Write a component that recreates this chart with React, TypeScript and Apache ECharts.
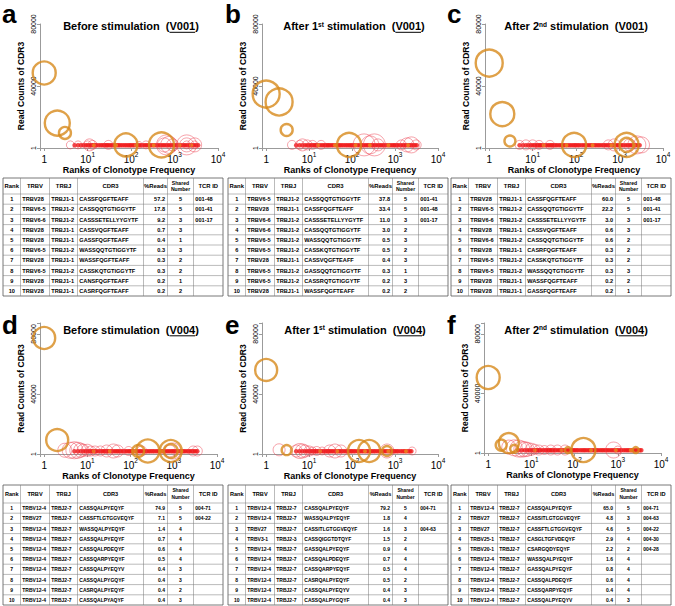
import React, { useEffect, useRef } from "react";
import * as echarts from "echarts";

const FONT = 'Arial, "Liberation Sans", Helvetica, sans-serif';

// ---------- data ----------
const panelLetters = ["a", "b", "c", "d", "e", "f"];
const titleParts = [
  { pre: "Before stimulation", sup: "", post: "", donor: "V001" },
  { pre: "After 1", sup: "st", post: " stimulation", donor: "V001" },
  { pre: "After 2", sup: "nd", post: " stimulation", donor: "V001" },
  { pre: "Before stimulation", sup: "", post: "", donor: "V004" },
  { pre: "After 1", sup: "st", post: " stimulation", donor: "V004" },
  { pre: "After 2", sup: "nd", post: " stimulation", donor: "V004" },
];

// [rank, read count, bubble size]
const orangeA = [[1, 48400, 23], [2, 16100, 25], [3, 9700, 12], [76, 2000, 23], [500, 2000, 25]];
const redA = [[4, 2000, 8], [6, 2000, 8], [10, 2000, 8], [11, 2000, 12], [13, 2000, 9], [30, 2000, 9], [150, 2000, 7], [220, 2000, 8], [580, 2000, 14], [650, 2000, 20], [750, 2000, 17], [900, 2000, 12], [1900, 2000, 8], [1900, 2000, 14], [1900, 2000, 20], [2900, 2000, 8], [2900, 2000, 14]];
const orangeB = [[1, 34800, 27], [2, 29700, 27], [3, 11600, 12], [85, 2000, 24]];
const redB = [[4, 2000, 9], [6, 2000, 9], [7, 2000, 12], [9, 2000, 10], [12, 2000, 9], [19, 2000, 9], [190, 2000, 22], [260, 2000, 18], [330, 2000, 22], [400, 2000, 12], [1400, 2000, 10], [1900, 2000, 14], [2400, 2000, 16], [3100, 2000, 10]];
const orangeC = [[1, 54800, 27], [2, 21900, 24], [3, 4500, 11], [90, 2000, 24], [1450, 2000, 24], [1450, 2000, 14]];
const redC = [[5, 2000, 9], [7, 2000, 10], [10, 2000, 10], [14, 2000, 9], [25, 2000, 9], [550, 2000, 10], [750, 2000, 12], [1700, 2000, 12], [2500, 2000, 18], [3200, 2000, 16]];
const orangeD = [[1, 77300, 22], [2, 9300, 22], [150, 2000, 12], [250, 2000, 23], [850, 2000, 14], [850, 2000, 22]];
const redD = [[3, 2500, 14], [4, 2500, 16], [5, 2500, 17], [6, 2500, 16], [7, 2500, 14], [8, 2500, 12], [10, 2500, 12], [12, 2000, 10], [15, 2000, 10], [20, 2000, 10], [28, 2000, 12], [40, 2000, 14], [50, 2000, 12], [90, 2000, 9], [180, 2000, 10], [800, 2000, 12], [950, 2000, 16], [2800, 2000, 10], [3500, 2000, 10]];
const orangeE = [[1, 56000, 22], [3, 2600, 10], [145, 2000, 22], [250, 2000, 22], [650, 2000, 10]];
const redE = [[2, 2800, 12], [5, 2000, 12], [6, 2000, 15], [7, 2000, 14], [8, 2000, 12], [10, 2000, 10], [12, 2000, 8], [15, 2000, 9], [20, 2000, 8], [30, 2000, 12], [40, 2000, 14], [55, 2000, 12], [650, 2000, 14], [2500, 2000, 8]];
const orangeF = [[1, 50700, 23], [2, 5300, 11], [3, 6700, 20], [4, 2800, 8], [70, 2000, 6], [160, 2000, 24], [2600, 2000, 6]];
const redF = [[3, 4000, 14], [4, 3500, 16], [5, 3000, 17], [6, 2600, 16], [7, 2500, 15], [8, 2500, 14], [10, 2500, 12], [12, 2500, 10], [15, 2000, 10], [20, 2000, 9], [28, 2000, 10], [40, 2000, 10], [60, 2000, 10], [800, 2000, 16], [1000, 2000, 8]];

const orangeSets = [orangeA, orangeB, orangeC, orangeD, orangeE, orangeF];
const redSets = [redA, redB, redC, redD, redE, redF];

// low-frequency tail of clonotypes (ranks), read counts near the baseline
const tailRanks = [5, 6, 7, 8, 9, 10, 11, 12, 13, 14, 15, 16, 18, 20, 22, 24, 26, 28, 30, 33, 36, 40, 44, 48, 52, 57, 63, 70, 77, 85, 93, 100, 110, 120, 135, 150, 165, 180, 200, 220, 240, 265, 290, 320, 350, 390, 430, 470, 520, 570, 630, 700, 770, 850, 930, 1000, 1100, 1200, 1350, 1500, 1650, 1800, 2000, 2200, 2400, 2650, 2900, 3200, 3500];
const tailMaxRank = [3500, 3300, 3000, 3600, 2500, 3600];
const tailReads = [1800, 1800, 1800, 1800, 1800, 1800];
const tailOrangeRanks = [
  [14, 45, 130, 330, 1300, 2400],
  [16, 40, 120, 260, 700, 2000],
  [18, 60, 240, 650, 2200],
  [14, 33, 120, 520, 1500],
  [18, 45, 200, 700, 1800],
  [12, 50, 240, 900, 2000],
];

const yTickLabels = ["1", "40000", "80000"];
const xTickExponents = [0, 1, 2, 3, 4];

const tableHeaders = ["Rank", "TRBV", "TRBJ", "CDR3", "%Reads", "Shared\nNumber", "TCR ID"];
const tableA = [
  [1, "TRBV28", "TRBJ1-1", "CASSFQGFTEAFF", 57.2, 5, "001-48"],
  [2, "TRBV6-5", "TRBJ1-2", "CASSQQTGTIGGYTF", 17.8, 5, "001-41"],
  [3, "TRBV6-6", "TRBJ1-2", "CASSSETELLYYGYTF", 9.2, 3, "001-17"],
  [4, "TRBV28", "TRBJ1-1", "CASSVQGFTEAFF", 0.7, 3, ""],
  [5, "TRBV28", "TRBJ1-1", "GASSFQGFTEAFF", 0.4, 1, ""],
  [6, "TRBV6-5", "TRBJ1-2", "WASSQQTGTIGGYTF", 0.3, 3, ""],
  [7, "TRBV28", "TRBJ1-1", "WASSFQGFTEAFF", 0.3, 2, ""],
  [8, "TRBV6-5", "TRBJ1-2", "CASSKQTGTIGGYTF", 0.3, 2, ""],
  [9, "TRBV28", "TRBJ1-1", "CANSFQGFTEAFF", 0.2, 1, ""],
  [10, "TRBV28", "TRBJ1-1", "CASRFQGFTEAFF", 0.2, 2, ""],
];
const tableB = [
  [1, "TRBV6-5", "TRBJ1-2", "CASSQQTGTIGGYTF", 37.8, 5, "001-41"],
  [2, "TRBV28", "TRBJ1-1", "CASSFQGFTEAFF", 33.4, 5, "001-48"],
  [3, "TRBV6-6", "TRBJ1-2", "CASSSETELLYYGYTF", 11.0, 3, "001-17"],
  [4, "TRBV6-6", "TRBJ1-2", "CASSQQTGTIGGYTF", 3.0, 2, ""],
  [5, "TRBV6-5", "TRBJ1-2", "WASSQQTGTIGGYTF", 0.5, 3, ""],
  [6, "TRBV6-5", "TRBJ1-2", "CASSKQTGTIGGYTF", 0.5, 2, ""],
  [7, "TRBV28", "TRBJ1-1", "CASSVQGFTEAFF", 0.4, 3, ""],
  [8, "TRBV6-5", "TRBJ1-2", "GASSQQTGTIGGYTF", 0.3, 1, ""],
  [9, "TRBV6-5", "TRBJ1-2", "CASSRQTGTIGGYTF", 0.2, 3, ""],
  [10, "TRBV28", "TRBJ1-1", "WASSFQGFTEAFF", 0.2, 2, ""],
];
const tableC = [
  [1, "TRBV28", "TRBJ1-1", "CASSFQGFTEAFF", 60.0, 5, "001-48"],
  [2, "TRBV6-5", "TRBJ1-2", "CASSQQTGTIGGYTF", 22.2, 5, "001-41"],
  [3, "TRBV6-6", "TRBJ1-2", "CASSSETELLYYGYTF", 3.0, 3, "001-17"],
  [4, "TRBV28", "TRBJ1-1", "CASSVQGFTEAFF", 0.6, 3, ""],
  [5, "TRBV6-6", "TRBJ1-2", "CASSQQTGTIGGYTF", 0.6, 2, ""],
  [6, "TRBV28", "TRBJ1-1", "CASRFQGFTEAFF", 0.3, 2, ""],
  [7, "TRBV6-5", "TRBJ1-2", "CASSKQTGTIGGYTF", 0.3, 2, ""],
  [8, "TRBV6-5", "TRBJ1-2", "WASSQQTGTIGGYTF", 0.3, 3, ""],
  [9, "TRBV28", "TRBJ1-1", "WASSFQGFTEAFF", 0.2, 2, ""],
  [10, "TRBV28", "TRBJ1-1", "GASSFQGFTEAFF", 0.2, 1, ""],
];
const tableD = [
  [1, "TRBV12-4", "TRBJ2-7", "CASSQALPYEQYF", 74.9, 5, "004-71"],
  [2, "TRBV27", "TRBJ2-7", "CASSFTLGTGGVEQYF", 7.1, 5, "004-22"],
  [3, "TRBV12-4", "TRBJ2-7", "WASSQALPYEQYF", 1.4, 4, ""],
  [4, "TRBV12-4", "TRBJ2-7", "GASSQALPYEQYF", 0.7, 4, ""],
  [5, "TRBV12-4", "TRBJ2-7", "CASSQALPDEQYF", 0.6, 4, ""],
  [6, "TRBV12-4", "TRBJ2-7", "CASSQARPYEQYF", 0.5, 4, ""],
  [7, "TRBV12-4", "TRBJ2-7", "CASSQALPYEQYV", 0.4, 3, ""],
  [8, "TRBV12-4", "TRBJ2-7", "CASSQALPYGQYF", 0.4, 3, ""],
  [9, "TRBV12-4", "TRBJ2-7", "CASRQALPYEQYF", 0.4, 2, ""],
  [10, "TRBV12-4", "TRBJ2-7", "CASSQALPYAQYF", 0.4, 3, ""],
];
const tableE = [
  [1, "TRBV12-4", "TRBJ2-7", "CASSQALPYEQYF", 79.2, 5, "004-71"],
  [2, "TRBV12-4", "TRBJ2-7", "WASSQALPYEQYF", 1.8, 4, ""],
  [3, "TRBV27", "TRBJ2-7", "CASSITLGTGGVEQYF", 1.6, 3, "004-63"],
  [4, "TRBV3-1", "TRBJ2-3", "CASSQIGGTDTQYF", 1.5, 2, ""],
  [5, "TRBV12-4", "TRBJ2-7", "GASSQALPYEQYF", 0.9, 4, ""],
  [6, "TRBV12-4", "TRBJ2-7", "CASSQALPDEQYF", 0.7, 4, ""],
  [7, "TRBV12-4", "TRBJ2-7", "CASSQARPYEQYF", 0.5, 4, ""],
  [8, "TRBV12-4", "TRBJ2-7", "CASRQALPYEQYF", 0.5, 2, ""],
  [9, "TRBV12-4", "TRBJ2-7", "CASSQALPYEQYV", 0.4, 3, ""],
  [10, "TRBV12-4", "TRBJ2-7", "CASSQALPYGQYF", 0.4, 3, ""],
];
const tableF = [
  [1, "TRBV12-4", "TRBJ2-7", "CASSQALPYEQYF", 65.0, 5, "004-71"],
  [2, "TRBV27", "TRBJ2-7", "CASSITLGTGGVEQYF", 4.8, 3, "004-63"],
  [3, "TRBV27", "TRBJ2-7", "CASSFTLGTGGVEQYF", 4.6, 5, "004-22"],
  [4, "TRBV25-1", "TRBJ2-7", "CASGLTGFVDEQYF", 2.9, 4, "004-30"],
  [5, "TRBV20-1", "TRBJ2-7", "CSARGQDYEQYF", 2.2, 2, "004-28"],
  [6, "TRBV12-4", "TRBJ2-7", "WASSQALPYEQYF", 1.6, 4, ""],
  [7, "TRBV12-4", "TRBJ2-7", "GASSQALPYEQYF", 0.8, 4, ""],
  [8, "TRBV12-4", "TRBJ2-7", "CASSQALPDEQYF", 0.6, 4, ""],
  [9, "TRBV12-4", "TRBJ2-7", "CASSQARPYEQYF", 0.4, 4, ""],
  [10, "TRBV12-4", "TRBJ2-7", "CASSQALPYEQYV", 0.4, 3, ""],
];
const tables = [tableA, tableB, tableC, tableD, tableE, tableF];

// ---------- layout ----------
const grids = [
  { left: 40, top: 24, right: 218, bottom: 148, ymax: 80000 },
  { left: 262, top: 24, right: 438, bottom: 148, ymax: 80000 },
  { left: 485, top: 24, right: 663, bottom: 148, ymax: 80000 },
  { left: 40, top: 323, right: 217, bottom: 454, ymax: 87300 },
  { left: 262, top: 323, right: 438, bottom: 454, ymax: 87300 },
  { left: 484, top: 323, right: 661, bottom: 453, ymax: 87300 },
];
const letterPos = [[2, 14], [225, 14], [447, 14], [2, 325], [225, 325], [447, 325]];
const titleCenter = [[131, 26], [354, 26], [576, 26], [131, 329.5], [355, 329.5], [576, 329.5]];
const tableLeft = [3, 228, 451];
const tableTop = [178, 485];
const tableHeaderH = [16, 18];
const tableRowH = [10.2, 10.2];
const tableBodyFont = [5.6, 5.0];
const tableHeadFont = [5.9, 5.6];
const colEdges = [0, 17.5, 46.5, 74.5, 140.5, 164.5, 190.5, 220];
const colAlign = ["center", "left", "left", "left", "right", "center", "left"];

const ORANGE = "#d7891b";
const RED_RING = "rgba(236,58,76,0.75)";
const RED_DOT = "#f01c1c";
const ORANGE_DOT = "#ec8c1e";
const AXIS = "#9b9b9b";

let measureCtx: CanvasRenderingContext2D | null = null;
function measure(text: string, size: number, weight = "bold") {
  if (!measureCtx) measureCtx = document.createElement("canvas").getContext("2d");
  measureCtx!.font = `${weight} ${size}px ${FONT}`;
  return measureCtx!.measureText(text).width;
}

function textEl(x: number, y: number, text: string, size: number, weight: string, align = "left", vAlign = "middle", extra: any = {}) {
  return {
    type: "text",
    x,
    y,
    silent: true,
    z: 100,
    style: {
      text,
      fontSize: size,
      fontWeight: weight,
      fontFamily: FONT,
      fill: "#000",
      textAlign: align,
      textVerticalAlign: vAlign,
      verticalAlign: vAlign,
      ...extra,
    },
  };
}

function titleEls(i: number) {
  const t = titleParts[i];
  const [cx, cy] = titleCenter[i];
  const fs = 11;
  const sfs = 6.5;
  const parts: any[] = [{ text: t.pre, size: fs, dy: 0 }];
  if (t.sup) parts.push({ text: t.sup, size: sfs, dy: -1.8 });
  parts.push({ text: t.post + "  (", size: fs, dy: 0 });
  parts.push({ text: t.donor, size: fs, dy: 0, underline: true });
  parts.push({ text: ")", size: fs, dy: 0 });
  const widths = parts.map((p) => measure(p.text, p.size));
  const total = widths.reduce((a, b) => a + b, 0);
  let x = cx - total / 2;
  const els: any[] = [];
  parts.forEach((p, k) => {
    els.push(textEl(x, cy + p.dy, p.text, p.size, "bold"));
    if (p.underline) {
      els.push({
        type: "line",
        silent: true,
        z: 100,
        shape: { x1: x, y1: cy + 6.3, x2: x + widths[k], y2: cy + 6.3 },
        style: { stroke: "#000", lineWidth: 1 },
      });
    }
    x += widths[k];
  });
  return els;
}

function tableEls(i: number) {
  const rows = tables[i];
  const row = i < 3 ? 0 : 1;
  const L = tableLeft[i % 3];
  const T = tableTop[row];
  const hH = tableHeaderH[row];
  const rH = tableRowH[row];
  const W = colEdges[colEdges.length - 1];
  const H = hH + rH * rows.length;
  const els: any[] = [];
  els.push({
    type: "rect",
    silent: true,
    z: 90,
    shape: { x: L, y: T, width: W, height: H },
    style: { fill: "#fff", stroke: "#555", lineWidth: 0.8 },
  });
  for (let r = 0; r < rows.length; r++) {
    const y = T + hH + r * rH;
    els.push({
      type: "line",
      silent: true,
      z: 91,
      shape: { x1: L, y1: y, x2: L + W, y2: y },
      style: { stroke: "#777", lineWidth: 0.5 },
    });
  }
  for (let c = 1; c < colEdges.length - 1; c++) {
    const x = L + colEdges[c];
    els.push({
      type: "line",
      silent: true,
      z: 91,
      shape: { x1: x, y1: T, x2: x, y2: T + H },
      style: { stroke: "#777", lineWidth: 0.5 },
    });
  }
  tableHeaders.forEach((h, c) => {
    const cxm = L + (colEdges[c] + colEdges[c + 1]) / 2;
    const isTwo = h.indexOf("\n") >= 0;
    els.push(
      textEl(cxm, T + hH / 2, h, isTwo ? tableHeadFont[row] - 0.8 : tableHeadFont[row], "bold", "center", "middle", isTwo ? { lineHeight: 6.2 } : {})
    );
  });
  const fs = tableBodyFont[row];
  rows.forEach((rw, r) => {
    const y = T + hH + r * rH + rH / 2;
    rw.forEach((v: any, c: number) => {
      const s = c === 4 ? Number(v).toFixed(1) : String(v);
      if (!s) return;
      const a = colAlign[c];
      const x =
        a === "center"
          ? L + (colEdges[c] + colEdges[c + 1]) / 2
          : a === "left"
          ? L + colEdges[c] + 1.8
          : L + colEdges[c + 1] - 2.5;
      els.push(textEl(x, y, s, fs, "bold", a, "middle"));
    });
  });
  return els;
}

function buildOption() {
  const gridOpt: any[] = [];
  const xAxes: any[] = [];
  const yAxes: any[] = [];
  const series: any[] = [];
  const graphics: any[] = [];

  grids.forEach((g, i) => {
    gridOpt.push({
      left: g.left,
      top: g.top,
      width: g.right - g.left,
      height: g.bottom - g.top,
      containLabel: false,
    });
    xAxes.push({
      type: "log",
      logBase: 10,
      gridIndex: i,
      min: 0.8,
      max: 10000,
      name: "Ranks of Clonotype Frequency",
      nameLocation: "middle",
      nameGap: 17,
      nameTextStyle: { fontSize: 9, fontWeight: "bold", color: "#000", fontFamily: FONT },
      axisLine: { show: true, lineStyle: { color: AXIS, width: 1 } },
      axisTick: { show: true, length: 3, lineStyle: { color: AXIS } },
      minorTick: { show: false },
      splitLine: { show: false },
      axisLabel: {
        show: true,
        margin: 3,
        fontSize: 10,
        lineHeight: 13,
        color: "#000",
        fontFamily: FONT,
        formatter: (v: number) => {
          const lg = Math.log10(v);
          const e = Math.round(lg);
          if (Math.abs(lg - e) > 1e-6 || xTickExponents.indexOf(e) < 0) return "";
          return e === 0 ? "{b|1}" : `{b|10}{s|${e}}`;
        },
        rich: {
          b: { fontSize: 10, lineHeight: 13, verticalAlign: "bottom", color: "#000", fontFamily: FONT },
          s: { fontSize: 6.5, lineHeight: 6, verticalAlign: "top", color: "#000", fontFamily: FONT },
        },
      },
    });
    yAxes.push({
      type: "value",
      gridIndex: i,
      min: 0,
      max: g.ymax,
      interval: 40000,
      name: "Read Counts of CDR3",
      nameLocation: "middle",
      nameRotate: 90,
      nameGap: 15,
      nameTextStyle: { fontSize: 8.5, fontWeight: "bold", color: "#000", fontFamily: FONT },
      axisLine: { show: true, lineStyle: { color: AXIS, width: 1 } },
      axisTick: { show: true, length: 3, lineStyle: { color: AXIS } },
      splitLine: { show: false },
      axisLabel: {
        rotate: 90,
        margin: 3,
        fontSize: 7,
        color: "#000",
        fontFamily: FONT,
        formatter: (v: number) => {
          if (v % 40000 !== 0) return "";
          return yTickLabels[v / 40000] ?? "";
        },
      },
    });

    const tail = tailRanks.filter((r) => r <= tailMaxRank[i]).map((r) => [r, tailReads[i]]);
    series.push({
      type: "scatter",
      xAxisIndex: i,
      yAxisIndex: i,
      data: tail,
      symbol: "circle",
      symbolSize: 4.5,
      itemStyle: { color: RED_DOT },
      emphasis: { disabled: true },
      silent: true,
      z: 2,
    });
    series.push({
      type: "scatter",
      xAxisIndex: i,
      yAxisIndex: i,
      data: tailOrangeRanks[i].map((r) => [r, tailReads[i]]),
      symbol: "circle",
      symbolSize: 4,
      itemStyle: { color: ORANGE_DOT },
      emphasis: { disabled: true },
      silent: true,
      z: 3,
    });
    series.push({
      type: "scatter",
      xAxisIndex: i,
      yAxisIndex: i,
      data: redSets[i],
      symbol: "circle",
      symbolSize: (v: number[]) => v[2],
      itemStyle: { color: "rgba(0,0,0,0)", borderColor: RED_RING, borderWidth: 0.8 },
      emphasis: { disabled: true },
      silent: true,
      z: 4,
    });
    series.push({
      type: "scatter",
      xAxisIndex: i,
      yAxisIndex: i,
      data: orangeSets[i],
      symbol: "circle",
      symbolSize: (v: number[]) => v[2],
      itemStyle: { color: "rgba(0,0,0,0)", borderColor: ORANGE, borderWidth: 2.4 },
      emphasis: { disabled: true },
      silent: true,
      z: 5,
    });

    const [lx, ly] = letterPos[i];
    graphics.push(textEl(lx, ly, panelLetters[i], 26, "bold", "left", "middle"));
    graphics.push(...titleEls(i));
    graphics.push(...tableEls(i));
  });

  return {
    animation: false,
    backgroundColor: "#fff",
    textStyle: { fontFamily: FONT },
    grid: gridOpt,
    xAxis: xAxes,
    yAxis: yAxes,
    series,
    graphic: { elements: graphics },
  };
}

export default function App() {
  const ref = useRef<HTMLDivElement>(null);
  useEffect(() => {
    const chart = echarts.init(ref.current!, undefined, { renderer: "svg" });
    chart.setOption(buildOption() as any);
    return () => chart.dispose();
  }, []);
  return (
    <div
      ref={ref}
      style={{ position: "absolute", left: 0, top: 0, width: 675, height: 606, background: "#fff" }}
    />
  );
}
